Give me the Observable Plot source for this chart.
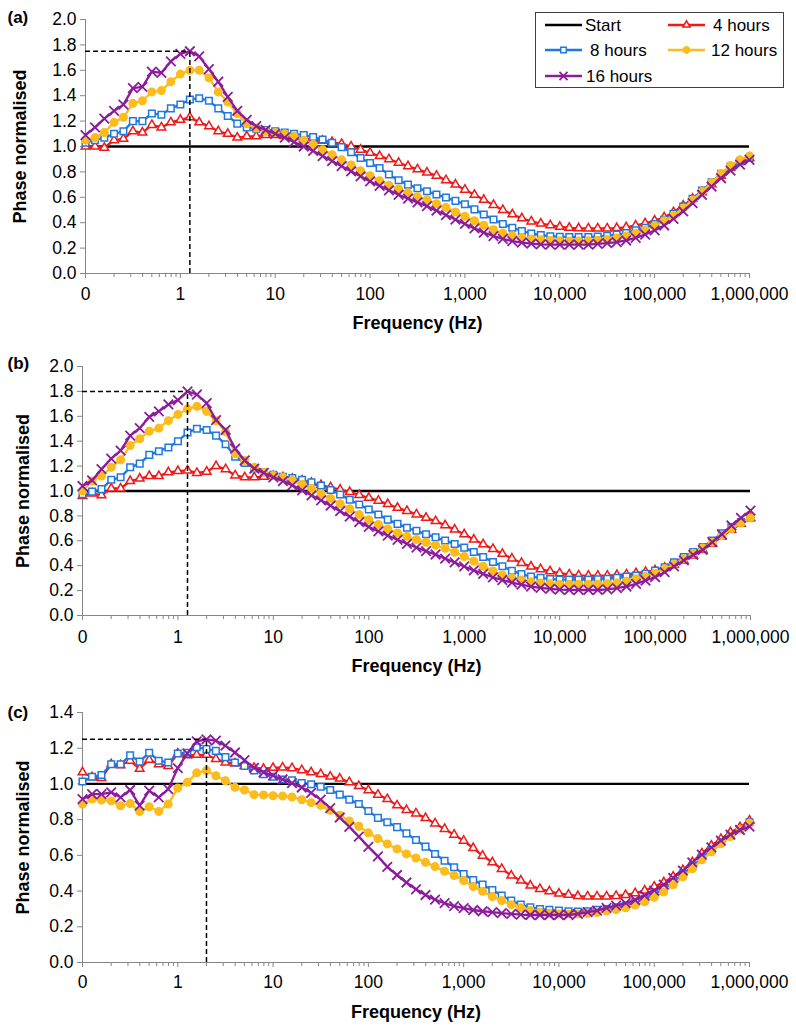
<!DOCTYPE html>
<html><head><meta charset="utf-8">
<script src="https://cdn.jsdelivr.net/npm/d3@7"></script>
<script src="https://cdn.jsdelivr.net/npm/@observablehq/plot@0.6"></script>
<style>
body{margin:0;background:#fff;font-family:"Liberation Sans",Arial,sans-serif;}
#wrap{position:relative;width:796px;height:1027px;overflow:hidden;}
#wrap svg.panel{position:absolute;left:0;}
#legend{position:absolute;left:535px;top:12px;}
</style></head><body><div id="wrap"></div>
<script>
// ---------- data ----------
const freqs = [0.1,0.126,0.158,0.2,0.251,0.316,0.398,0.501,0.631,0.794,
 1,1.26,1.58,2,2.51,3.16,3.98,5.01,6.31,7.94,
 10,12.6,15.8,20,25.1,31.6,39.8,50.1,63.1,79.4,
 100,126,158,200,251,316,398,501,631,794,
 1000,1260,1580,2000,2510,3160,3980,5010,6310,7940,
 10000,12600,15800,20000,25100,31600,39800,50100,63100,79400,
 100000,126000,158000,200000,251000,316000,398000,501000,631000,794000,
 1000000];

const seriesNames = ["4 hours","8 hours","12 hours","16 hours"];
const startName = "Start";
const startValue = 1;

const a4h = [1.00,1.00,0.99,1.05,1.06,1.12,1.11,1.17,1.15,1.19, 1.21,1.23,1.19,1.16,1.12,1.10,1.07,1.08,1.08,1.09, 1.09,1.085,1.075,1.065,1.055,1.045,1.035,1.02,1.0,0.975, 0.95,0.925,0.9,0.872,0.845,0.82,0.795,0.77,0.735,0.70, 0.66,0.62,0.58,0.54,0.50,0.466,0.435,0.41,0.393,0.38, 0.368,0.36,0.356,0.355,0.355,0.355,0.358,0.364,0.378,0.395, 0.417,0.443,0.483,0.535,0.588,0.64,0.703,0.77,0.83,0.877, 0.91];
const a8h = [1.03,1.05,1.07,1.10,1.12,1.20,1.20,1.26,1.25,1.30, 1.33,1.37,1.38,1.36,1.30,1.24,1.18,1.15,1.14,1.13, 1.12,1.11,1.10,1.09,1.075,1.055,1.03,0.995,0.955,0.91, 0.87,0.83,0.78,0.735,0.70,0.672,0.648,0.622,0.598,0.572, 0.545,0.505,0.465,0.425,0.39,0.36,0.335,0.315,0.302,0.294, 0.29,0.288,0.287,0.288,0.291,0.297,0.306,0.318,0.34,0.36, 0.39,0.423,0.47,0.528,0.588,0.654,0.719,0.785,0.843,0.885, 0.91];
const a12h = [1.05,1.07,1.11,1.19,1.23,1.34,1.36,1.43,1.44,1.51, 1.57,1.60,1.60,1.54,1.43,1.35,1.26,1.18,1.145,1.12, 1.11,1.10,1.08,1.05,1.015,0.975,0.935,0.895,0.855,0.81, 0.77,0.73,0.695,0.665,0.635,0.605,0.58,0.55,0.52,0.485, 0.45,0.415,0.38,0.345,0.318,0.298,0.283,0.272,0.265,0.26, 0.257,0.256,0.256,0.258,0.262,0.268,0.28,0.295,0.315,0.342, 0.375,0.415,0.457,0.515,0.578,0.645,0.715,0.785,0.85,0.895, 0.925];
const a16h = [1.09,1.15,1.22,1.28,1.33,1.46,1.47,1.59,1.58,1.67, 1.73,1.75,1.71,1.61,1.51,1.39,1.28,1.21,1.16,1.13, 1.10,1.07,1.035,1.0,0.965,0.925,0.885,0.845,0.805,0.765, 0.725,0.69,0.655,0.62,0.59,0.56,0.53,0.495,0.46,0.425, 0.39,0.355,0.322,0.295,0.272,0.255,0.243,0.235,0.23,0.228, 0.228,0.228,0.228,0.228,0.233,0.239,0.247,0.26,0.281,0.307, 0.339,0.378,0.43,0.49,0.554,0.62,0.685,0.75,0.81,0.858, 0.895];

const b4h = [0.96,0.98,0.965,1.02,1.02,1.08,1.10,1.12,1.12,1.15, 1.16,1.165,1.145,1.155,1.20,1.175,1.125,1.11,1.11,1.115, 1.12,1.11,1.098,1.084,1.066,1.048,1.03,1.012,0.992,0.968, 0.945,0.922,0.895,0.865,0.84,0.812,0.785,0.758,0.725,0.69, 0.652,0.61,0.572,0.535,0.495,0.458,0.422,0.393,0.372,0.355, 0.34,0.33,0.322,0.32,0.32,0.32,0.325,0.33,0.34,0.35, 0.363,0.383,0.407,0.442,0.482,0.527,0.576,0.634,0.688,0.736, 0.784];
const b8h = [0.975,0.995,1.015,1.09,1.11,1.19,1.22,1.29,1.32,1.35, 1.40,1.47,1.50,1.49,1.445,1.375,1.275,1.225,1.18,1.15, 1.13,1.115,1.105,1.09,1.07,1.044,1.008,0.972,0.93,0.892, 0.851,0.811,0.77,0.736,0.705,0.68,0.652,0.628,0.602,0.575, 0.545,0.51,0.47,0.43,0.395,0.36,0.333,0.313,0.302,0.293, 0.288,0.288,0.288,0.288,0.29,0.295,0.303,0.313,0.321,0.335, 0.361,0.388,0.428,0.469,0.509,0.549,0.602,0.661,0.71,0.75, 0.784];
const b12h = [1.0,1.08,1.12,1.19,1.25,1.365,1.42,1.48,1.505,1.565, 1.615,1.66,1.68,1.64,1.565,1.475,1.30,1.245,1.19,1.15, 1.125,1.11,1.085,1.055,1.02,0.98,0.94,0.897,0.857,0.811, 0.769,0.731,0.696,0.663,0.636,0.61,0.588,0.565,0.54,0.508, 0.474,0.436,0.396,0.358,0.325,0.303,0.285,0.272,0.262,0.255, 0.25,0.25,0.25,0.25,0.252,0.256,0.262,0.276,0.295,0.313, 0.34,0.375,0.41,0.455,0.50,0.543,0.589,0.643,0.696,0.742, 0.784];
const b16h = [1.04,1.085,1.175,1.26,1.325,1.445,1.505,1.595,1.64,1.695, 1.73,1.80,1.775,1.705,1.57,1.49,1.34,1.245,1.18,1.145, 1.11,1.08,1.045,1.005,0.965,0.925,0.882,0.838,0.795,0.75, 0.712,0.675,0.642,0.608,0.576,0.546,0.517,0.49,0.457,0.426, 0.394,0.362,0.334,0.307,0.285,0.265,0.248,0.232,0.222,0.214, 0.208,0.206,0.205,0.205,0.205,0.21,0.22,0.233,0.254,0.281, 0.308,0.348,0.394,0.442,0.487,0.527,0.589,0.651,0.723,0.784, 0.843];

const c4h = [1.065,1.037,1.033,1.11,1.105,1.13,1.085,1.135,1.11,1.10, 1.17,1.16,1.163,1.163,1.14,1.12,1.115,1.10,1.09,1.085, 1.09,1.092,1.088,1.077,1.065,1.055,1.041,1.03,1.01,0.988, 0.965,0.94,0.915,0.88,0.854,0.835,0.809,0.779,0.748,0.716, 0.682,0.641,0.598,0.561,0.524,0.487,0.459,0.431,0.412,0.399, 0.386,0.38,0.372,0.37,0.37,0.37,0.373,0.378,0.388,0.403, 0.425,0.449,0.481,0.518,0.561,0.611,0.654,0.692,0.729,0.757, 0.795];
const c8h = [1.014,1.04,1.05,1.11,1.11,1.16,1.125,1.175,1.13,1.12, 1.17,1.175,1.205,1.195,1.185,1.15,1.12,1.10,1.075,1.055, 1.04,1.025,1.02,1.005,0.998,0.984,0.966,0.94,0.912,0.888, 0.848,0.81,0.785,0.758,0.723,0.686,0.649,0.608,0.57,0.533, 0.496,0.462,0.436,0.406,0.375,0.347,0.324,0.309,0.30,0.295, 0.291,0.287,0.285,0.287,0.295,0.30,0.309,0.319,0.337,0.356, 0.384,0.412,0.449,0.496,0.537,0.585,0.63,0.673,0.71,0.748, 0.785];
const c12h = [0.887,0.915,0.91,0.905,0.878,0.89,0.846,0.872,0.846,0.887, 0.977,1.009,1.062,1.075,1.046,1.018,0.981,0.966,0.94,0.938, 0.934,0.932,0.927,0.912,0.895,0.88,0.852,0.824,0.792,0.763, 0.726,0.694,0.664,0.636,0.608,0.585,0.561,0.537,0.511,0.487, 0.459,0.425,0.399,0.369,0.347,0.324,0.306,0.291,0.282,0.276, 0.272,0.272,0.272,0.275,0.28,0.288,0.296,0.306,0.322,0.34, 0.365,0.395,0.435,0.48,0.525,0.575,0.62,0.665,0.705,0.745, 0.78];
const c16h = [0.915,0.943,0.943,0.953,0.925,0.966,0.878,0.962,0.925,0.971, 1.089,1.171,1.238,1.25,1.242,1.214,1.176,1.133,1.09,1.065, 1.046,1.025,1.005,0.98,0.95,0.912,0.865,0.812,0.76,0.705, 0.648,0.594,0.536,0.49,0.448,0.41,0.378,0.352,0.332,0.316, 0.304,0.294,0.287,0.282,0.276,0.272,0.268,0.266,0.266,0.266, 0.266,0.266,0.272,0.282,0.291,0.306,0.319,0.332,0.35,0.375, 0.403,0.436,0.474,0.515,0.561,0.604,0.645,0.682,0.716,0.742, 0.761];

const panelTags = ["(a)","(b)","(c)"];
const peakFreqs = [1.26, 1.26, 2];
const peakValues = [1.75, 1.8, 1.25];

const xDomain = [0.1, 1000000];
const xMajorTicks = [0.1, 1, 10, 100, 1000, 10000, 100000, 1000000];
const xTickLabels = ["0","1","10","100","1,000","10,000","100,000","1,000,000"];
const yTicksAB = [0,0.2,0.4,0.6,0.8,1.0,1.2,1.4,1.6,1.8,2.0];
const yTicksC = [0,0.2,0.4,0.6,0.8,1.0,1.2,1.4];
const xTitle = "Frequency (Hz)";
const yTitle = "Phase normalised";

// ---------- styling ----------
const FONT = '"Liberation Sans", Arial, sans-serif';
const axisColor = "#868686";
const seriesColors = ["#f01818", "#1f78e0", "#fbbc1c", "#8c1c9c"];
const seriesSymbols = ["triangle", "square", "circle", "times"];
const symbolR = [3.2, 3.7, 3.9, 4.4];
const symbolFill = ["#fff", "#fff", null, "none"];
const symbolStroke = [1.5, 1.5, 1.2, 1.8];

const xLabelMap = new Map(xMajorTicks.map((d, i) => [d, xTickLabels[i]]));
const xMinorTicks = xMajorTicks.slice(0, -1).flatMap(d => [2,3,4,5,6,7,8,9].map(m => d * m));

function rowsFor(arrays) {
  return arrays.map((vals, s) => vals.map((v, i) => ({f: freqs[i], v, s: seriesNames[s]})));
}

const panels = [
  {series: rowsFor([a4h, a8h, a12h, a16h]), yDomain: [0, 2], yTicks: yTicksAB,
   top: 0, height: 340, mt: 19, mb: 67, ml: 85, mr: 47, tagDx: -78, tagDy: -2, yDx: -65, xDy: 50, tickPad: 9},
  {series: rowsFor([b4h, b8h, b12h, b16h]), yDomain: [0, 2], yTicks: yTicksAB,
   top: 340, height: 340, mt: 26, mb: 65, ml: 82, mr: 46, tagDx: -75, tagDy: -3, yDx: -59, xDy: 51, tickPad: 10},
  {series: rowsFor([c4h, c8h, c12h, c16h]), yDomain: [0, 1.4], yTicks: yTicksC,
   top: 680, height: 347, mt: 32, mb: 65, ml: 82, mr: 47, tagDx: -75, tagDy: 0, yDx: -59, xDy: 50, tickPad: 8}
];

const wrap = document.getElementById("wrap");

panels.forEach((p, pi) => {
  const marks = [
    Plot.axisX(xMinorTicks, {tickSize: 4, tickFormat: () => "", stroke: axisColor, label: null}),
    Plot.axisX(xMajorTicks, {tickSize: 5, tickPadding: p.tickPad, tickFormat: d => xLabelMap.get(d), stroke: axisColor, fill: "#000", label: null}),
    Plot.axisY(p.yTicks, {tickSize: 5, tickPadding: 4, tickFormat: d3.format(".1f"), stroke: axisColor, fill: "#000", label: null}),
    Plot.ruleX([xDomain[0]], {stroke: axisColor}),
    Plot.ruleY([p.yDomain[0]], {stroke: axisColor}),
    Plot.ruleY([startValue], {x1: xDomain[0], x2: xDomain[1], stroke: "#000", strokeWidth: 2.3})
  ];
  p.series.forEach((rows, s) => {
    marks.push(Plot.line(rows, {x: "f", y: "v", stroke: seriesColors[s], strokeWidth: 2.3}));
    const fill = symbolFill[s] === null ? seriesColors[s] : symbolFill[s];
    marks.push(Plot.dot(rows, {x: "f", y: "v", symbol: () => seriesSymbols[s], r: symbolR[s],
      stroke: seriesColors[s], strokeWidth: symbolStroke[s], fill}));
  });
  marks.push(
    Plot.ruleY([peakValues[pi]], {x1: xDomain[0], x2: peakFreqs[pi], stroke: "#000", strokeWidth: 1.5, strokeDasharray: "5,3"}),
    Plot.ruleX([peakFreqs[pi]], {y1: p.yDomain[0], y2: peakValues[pi], stroke: "#000", strokeWidth: 1.5, strokeDasharray: "5,3"}),
    Plot.text([panelTags[pi]], {text: d => d, frameAnchor: "top-left", dx: p.tagDx, dy: p.tagDy, textAnchor: "start", lineAnchor: "middle", fontWeight: "bold", fontSize: 17}),
    Plot.text([yTitle], {text: d => d, frameAnchor: "left", rotate: -90, dx: p.yDx, textAnchor: "middle", lineAnchor: "middle", fontWeight: "bold", fontSize: 18}),
    Plot.text([xTitle], {text: d => d, frameAnchor: "bottom", dy: p.xDy, textAnchor: "middle", lineAnchor: "middle", fontWeight: "bold", fontSize: 18})
  );
  const svg = Plot.plot({
    width: 796, height: p.height,
    marginTop: p.mt, marginBottom: p.mb, marginLeft: p.ml, marginRight: p.mr,
    style: {fontFamily: FONT, fontSize: "17.5px", color: "#000", background: "transparent", overflow: "visible"},
    x: {type: "log", domain: xDomain},
    y: {domain: p.yDomain},
    marks
  });
  svg.classList.add("panel");
  svg.style.top = p.top + "px";
  wrap.appendChild(svg);
});

// ---------- legend (panel a) ----------
const legendItems = [
  {name: startName, color: "#000", symbol: null, x: 10, tx: 50, y: 13},
  {name: seriesNames[0], color: seriesColors[0], symbol: 0, x: 133, tx: 178, y: 13},
  {name: seriesNames[1], color: seriesColors[1], symbol: 1, x: 10, tx: 55, y: 38},
  {name: seriesNames[2], color: seriesColors[2], symbol: 2, x: 133, tx: 176, y: 38},
  {name: seriesNames[3], color: seriesColors[3], symbol: 3, x: 10, tx: 51, y: 64}
];
const lg = d3.select(wrap).append("svg").attr("id", "legend").attr("width", 250).attr("height", 77)
  .style("font-family", FONT).style("font-size", "17px");
lg.append("rect").attr("x", 0.5).attr("y", 0.5).attr("width", 248).attr("height", 75)
  .attr("fill", "#fff").attr("stroke", "#404040");
const symMap = {triangle: d3.symbolTriangle, square: d3.symbolSquare, circle: d3.symbolCircle, times: d3.symbolTimes};
legendItems.forEach(it => {
  lg.append("line").attr("x1", it.x).attr("x2", it.x + 37).attr("y1", it.y).attr("y2", it.y)
    .attr("stroke", it.color).attr("stroke-width", 2.3);
  if (it.symbol !== null) {
    const s = it.symbol, r = symbolR[s] * 0.85;
    lg.append("path").attr("transform", `translate(${it.x + 18.5},${it.y})`)
      .attr("d", d3.symbol(symMap[seriesSymbols[s]], Math.PI * r * r)())
      .attr("fill", symbolFill[s] === null ? it.color : symbolFill[s])
      .attr("stroke", it.color).attr("stroke-width", symbolStroke[s]);
  }
  lg.append("text").attr("x", it.tx).attr("y", it.y).attr("dy", "0.35em").text(it.name);
});
</script></body></html>
